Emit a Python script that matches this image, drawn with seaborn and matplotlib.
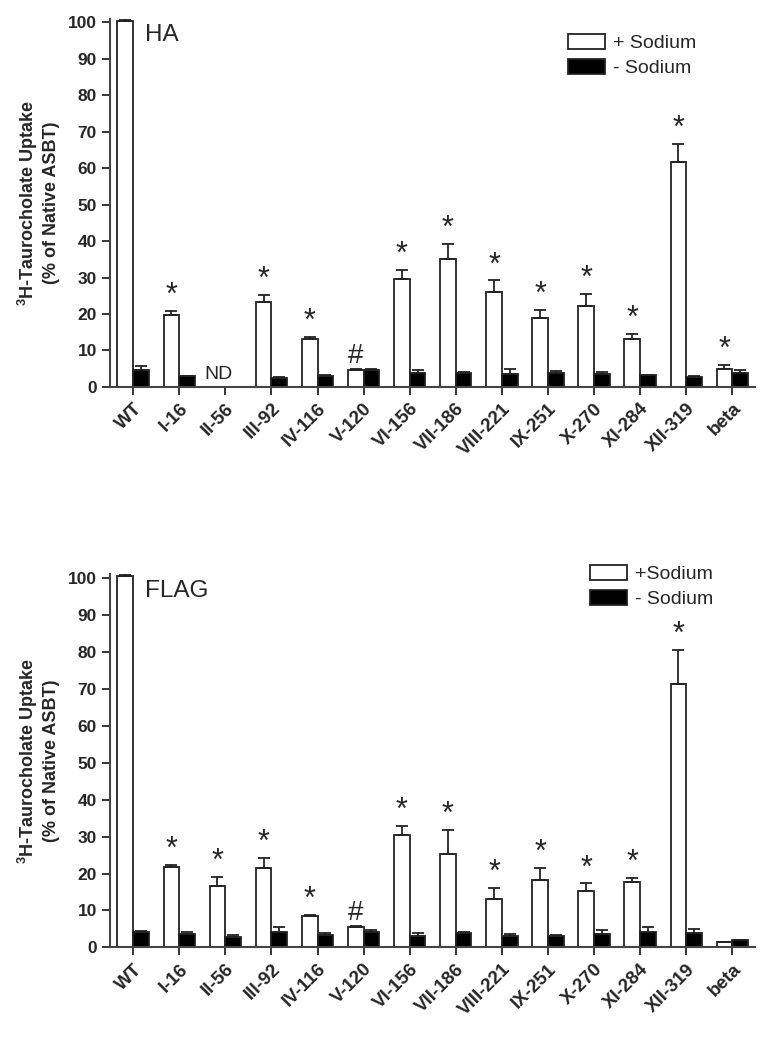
import numpy as np
import pandas as pd
import seaborn as sns
import matplotlib.pyplot as plt

mutants = ["WT", "I-16", "II-56", "III-92", "IV-116", "V-120", "VI-156",
           "VII-186", "VIII-221", "IX-251", "X-270", "XI-284", "XII-319", "beta"]

# HA tagged (II-56 not determined)
ha_plus = [100.5, 19.8, np.nan, 23.3, 13.1, 4.6, 29.7, 35.0, 25.9, 18.9, 22.2, 13.2, 61.8, 4.8]
ha_plus_err = [0.3, 1.0, np.nan, 1.9, 0.5, 0.2, 2.5, 4.1, 3.3, 2.1, 3.3, 1.3, 4.8, 1.1]
ha_minus = [4.6, 2.9, np.nan, 2.5, 3.0, 4.6, 3.9, 3.8, 3.4, 3.7, 3.4, 3.2, 2.8, 3.9]
ha_minus_err = [1.2, 0.2, np.nan, 0.2, 0.3, 0.2, 0.6, 0.2, 1.4, 0.7, 0.7, 0.1, 0.2, 0.6]
ha_marks = ["", "*", "ND", "*", "*", "#", "*", "*", "*", "*", "*", "*", "*", "*"]

# FLAG tagged
flag_plus = [100.4, 21.8, 16.5, 21.5, 8.6, 5.6, 30.3, 25.3, 13.2, 18.2, 15.3, 17.7, 71.4, 1.5]
flag_plus_err = [0.5, 0.5, 2.6, 2.6, 0.2, 0.2, 2.6, 6.6, 2.8, 3.2, 2.0, 1.2, 9.0, 0.1]
flag_minus = [4.2, 3.6, 2.7, 4.3, 3.4, 4.3, 3.2, 3.8, 3.2, 3.1, 3.6, 4.3, 3.9, 1.9]
flag_minus_err = [0.2, 0.6, 0.7, 1.3, 0.6, 0.3, 0.7, 0.5, 0.4, 0.3, 1.2, 1.2, 1.1, 0.2]
flag_marks = ["", "*", "*", "*", "*", "#", "*", "*", "*", "*", "*", "*", "*", ""]

ylab = r"$\mathbf{^3}$H-Taurocholate Uptake" + "\n(% of Native ASBT)"


def draw_panel(ax, plus, plus_err, minus, minus_err, marks, labels, tag, leg_anchor):
    df = pd.DataFrame({
        "mutant": mutants * 2,
        "cond": [labels[0]] * len(mutants) + [labels[1]] * len(mutants),
        "value": plus + minus,
    }).dropna()
    sns.barplot(data=df, x="mutant", y="value", hue="cond", order=mutants,
                hue_order=labels, palette=["white", "black"], edgecolor="#222222",
                linewidth=1.3, width=0.68, errorbar=None, saturation=1, ax=ax)

    # one-sided (upper) error bars on top of each drawn bar
    errs = [plus_err, minus_err]
    tops = {}
    for k, (cont, err) in enumerate(zip(ax.containers, errs)):
        for bar in cont:
            h = bar.get_height()
            if np.isnan(h):
                continue
            xc = bar.get_x() + bar.get_width() / 2
            i = int(round(xc))
            ax.errorbar(xc, h, yerr=[[0], [err[i]]], fmt="none", ecolor="#222222",
                        elinewidth=1.3, capsize=4, capthick=1.3)
            if k == 0:
                tops[i] = (xc, h + err[i])

    for i, m in enumerate(marks):
        if m == "ND":
            ax.text(i - 0.15, 1, m, ha="center", va="bottom", fontsize=14)
        elif m:
            xc, top = tops[i]
            ax.annotate(m, (xc, top), xytext=(0, 0), textcoords="offset points",
                        ha="center", va="bottom", fontsize=22 if m == "*" else 20)

    ax.set_xlim(-0.5, 13.5)
    ax.set_ylim(0, 101)
    ax.set_yticks(range(0, 101, 10))
    ax.set_xlabel("")
    ax.set_ylabel(ylab, fontsize=13, fontweight="bold", labelpad=6)
    ax.tick_params(axis="both", direction="out", length=6, width=1.3, labelsize=12.5)
    for lab in ax.get_yticklabels():
        lab.set_fontweight("bold")
    plt.setp(ax.get_xticklabels(), rotation=45, ha="right", rotation_mode="anchor",
             fontweight="bold", fontsize=13.5)
    ax.text(0.25, 99.5, tag, fontsize=17.5, va="top", ha="left")
    ax.legend(loc="upper right", frameon=False, fontsize=14, handlelength=1.9,
              handleheight=0.8, handletextpad=0.4, labelspacing=0.35,
              bbox_to_anchor=leg_anchor, borderaxespad=0)
    for s in ["left", "bottom"]:
        ax.spines[s].set_linewidth(1.5)
        ax.spines[s].set_color("#444444")
    sns.despine(ax=ax)


sns.set_style("ticks")
plt.rcParams["font.family"] = ["Liberation Sans", "DejaVu Sans"]
plt.rcParams["mathtext.fontset"] = "custom"
plt.rcParams["mathtext.bf"] = "Liberation Sans:bold"

fig = plt.figure(figsize=(7.7, 10.4), dpi=100)
ax1 = fig.add_axes([0.143, 0.628, 0.838, 0.354])
ax2 = fig.add_axes([0.143, 0.089, 0.838, 0.359])

draw_panel(ax1, ha_plus, ha_plus_err, ha_minus, ha_minus_err, ha_marks,
           ["+ Sodium", "- Sodium"], "HA", (0.92, 0.98))
draw_panel(ax2, flag_plus, flag_plus_err, flag_minus, flag_minus_err, flag_marks,
           ["+Sodium", "- Sodium"], "FLAG", (0.947, 1.045))

fig.savefig("out.png", dpi=100)
